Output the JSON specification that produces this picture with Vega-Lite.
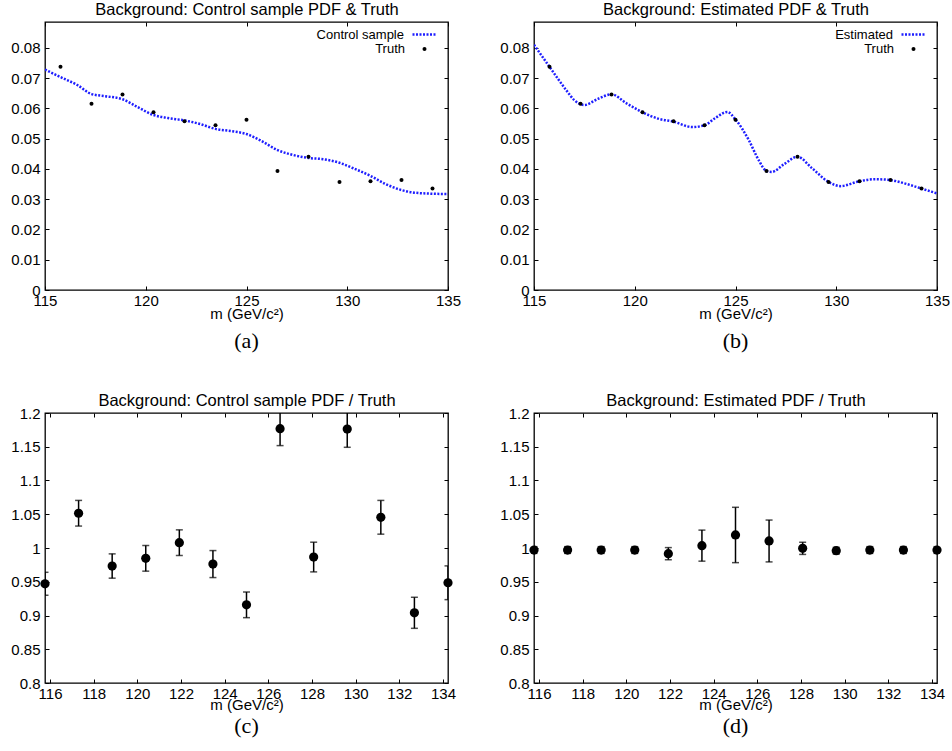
{
  "$schema": "https://vega.github.io/schema/vega-lite/v6.json",
  "background": "white",
  "padding": {"left": 10, "top": 0, "right": 2, "bottom": 2},
  "bounds": "flush",
  "columns": 2,
  "spacing": {"row": 123, "column": 86},
  "config": {
    "view": {"stroke": "black", "strokeWidth": 1.3},
    "axis": {
      "labelFont": "Liberation Sans", "labelFontSize": 15, "labelColor": "black",
      "titleFont": "Liberation Sans", "titleFontSize": 15, "titleFontWeight": "normal", "titleColor": "black",
      "domain": false, "grid": false, "tickColor": "black", "tickSize": -4, "tickWidth": 1,
      "labelPadding": 9, "labelFlush": false, "labelOverlap": false, "labelBound": false
    },
    "axisBottom": {"labelPadding": 7.5},
    "legend": {"labelFont": "Liberation Sans", "labelFontSize": 13, "labelColor": "black", "title": null, "padding": 0},
    "title": {"font": "Liberation Serif", "fontSize": 22, "fontWeight": "normal", "color": "black", "orient": "bottom", "anchor": "middle"}
  },
  "datasets": {
    "ctrl": [
      {"m": 115.0, "pdf": 0.0728}, {"m": 115.77, "pdf": 0.0703}, {"m": 116.6, "pdf": 0.0677},
      {"m": 117.31, "pdf": 0.0647}, {"m": 118.0, "pdf": 0.0640}, {"m": 118.85, "pdf": 0.0630},
      {"m": 119.6, "pdf": 0.0604}, {"m": 120.38, "pdf": 0.0578}, {"m": 121.1, "pdf": 0.0568},
      {"m": 121.92, "pdf": 0.0560}, {"m": 122.7, "pdf": 0.0548}, {"m": 123.46, "pdf": 0.0532},
      {"m": 124.2, "pdf": 0.0525}, {"m": 125.0, "pdf": 0.0515}, {"m": 125.8, "pdf": 0.0490},
      {"m": 126.54, "pdf": 0.0462}, {"m": 127.3, "pdf": 0.0446}, {"m": 128.08, "pdf": 0.0436},
      {"m": 128.8, "pdf": 0.0432}, {"m": 129.62, "pdf": 0.0420}, {"m": 130.3, "pdf": 0.0402},
      {"m": 131.15, "pdf": 0.0377}, {"m": 131.9, "pdf": 0.0350}, {"m": 132.69, "pdf": 0.0330},
      {"m": 133.4, "pdf": 0.0321}, {"m": 134.23, "pdf": 0.0318}, {"m": 135.0, "pdf": 0.0317}
    ],
    "est": [
      {"m": 115.0, "pdf": 0.0810}, {"m": 115.77, "pdf": 0.0737}, {"m": 116.6, "pdf": 0.0660},
      {"m": 117.0, "pdf": 0.0627}, {"m": 117.5, "pdf": 0.0611}, {"m": 118.2, "pdf": 0.0632},
      {"m": 118.85, "pdf": 0.0646}, {"m": 119.6, "pdf": 0.0616}, {"m": 120.38, "pdf": 0.0587},
      {"m": 121.2, "pdf": 0.0565}, {"m": 121.92, "pdf": 0.0556}, {"m": 122.85, "pdf": 0.0538},
      {"m": 123.46, "pdf": 0.0544}, {"m": 124.0, "pdf": 0.0568}, {"m": 124.6, "pdf": 0.0588},
      {"m": 125.0, "pdf": 0.0563}, {"m": 125.66, "pdf": 0.0495}, {"m": 126.15, "pdf": 0.0429},
      {"m": 126.54, "pdf": 0.0393}, {"m": 126.8, "pdf": 0.0390}, {"m": 127.4, "pdf": 0.0415},
      {"m": 128.08, "pdf": 0.0440}, {"m": 128.8, "pdf": 0.0402}, {"m": 129.62, "pdf": 0.0357},
      {"m": 130.2, "pdf": 0.0343}, {"m": 131.15, "pdf": 0.0359}, {"m": 131.9, "pdf": 0.0366},
      {"m": 132.69, "pdf": 0.0363}, {"m": 133.5, "pdf": 0.0350}, {"m": 134.23, "pdf": 0.0335},
      {"m": 135.0, "pdf": 0.0319}
    ],
    "truth": [
      {"m": 115.769, "truth": 0.0737}, {"m": 117.308, "truth": 0.0615}, {"m": 118.846, "truth": 0.0646},
      {"m": 120.385, "truth": 0.0587}, {"m": 121.923, "truth": 0.0557}, {"m": 123.462, "truth": 0.0544},
      {"m": 125.0, "truth": 0.0562}, {"m": 126.538, "truth": 0.0393}, {"m": 128.077, "truth": 0.0440},
      {"m": 129.615, "truth": 0.0357}, {"m": 131.154, "truth": 0.0359}, {"m": 132.692, "truth": 0.0363},
      {"m": 134.231, "truth": 0.0335}
    ],
    "ratioC": [
      {"m": 115.769, "r": 0.947, "lo": 0.930, "hi": 0.964},
      {"m": 117.308, "r": 1.0515, "lo": 1.0325, "hi": 1.0705},
      {"m": 118.846, "r": 0.9733, "lo": 0.9553, "hi": 0.9913},
      {"m": 120.385, "r": 0.9847, "lo": 0.9657, "hi": 1.0037},
      {"m": 121.923, "r": 1.0079, "lo": 0.9889, "hi": 1.0269},
      {"m": 123.462, "r": 0.9762, "lo": 0.9562, "hi": 0.9962},
      {"m": 125.0, "r": 0.9158, "lo": 0.8968, "hi": 0.9348},
      {"m": 126.538, "r": 1.1767, "lo": 1.1517, "hi": 1.2017},
      {"m": 128.077, "r": 0.9866, "lo": 0.9646, "hi": 1.0086},
      {"m": 129.615, "r": 1.1762, "lo": 1.1492, "hi": 1.2032},
      {"m": 131.154, "r": 1.0455, "lo": 1.0205, "hi": 1.0705},
      {"m": 132.692, "r": 0.904, "lo": 0.881, "hi": 0.927},
      {"m": 134.231, "r": 0.9485, "lo": 0.9235, "hi": 0.9735}
    ],
    "ratioD": [
      {"m": 115.769, "r": 0.997, "lo": 0.992, "hi": 1.002},
      {"m": 117.308, "r": 0.997, "lo": 0.992, "hi": 1.002},
      {"m": 118.846, "r": 0.997, "lo": 0.992, "hi": 1.002},
      {"m": 120.385, "r": 0.997, "lo": 0.992, "hi": 1.002},
      {"m": 121.923, "r": 0.9916, "lo": 0.9826, "hi": 1.0006},
      {"m": 123.462, "r": 1.0035, "lo": 0.9805, "hi": 1.0265},
      {"m": 125.0, "r": 1.0193, "lo": 0.9783, "hi": 1.0603},
      {"m": 126.538, "r": 1.0104, "lo": 0.9794, "hi": 1.0414},
      {"m": 128.077, "r": 0.9995, "lo": 0.9905, "hi": 1.0085},
      {"m": 129.615, "r": 0.996, "lo": 0.991, "hi": 1.001},
      {"m": 131.154, "r": 0.997, "lo": 0.992, "hi": 1.002},
      {"m": 132.692, "r": 0.997, "lo": 0.992, "hi": 1.002},
      {"m": 134.231, "r": 0.997, "lo": 0.992, "hi": 1.002}
    ]
  },
  "concat": [
    {
      "width": 403, "height": 268,
      "title": {"text": "(a)", "offset": 9},
      "resolve": {"axis": {"x": "independent", "y": "independent"}},
      "layer": [
        {
          "data": {"name": "ctrl"},
          "mark": {"type": "line", "strokeWidth": 2.5, "strokeDash": [2, 1.5], "interpolate": "monotone", "clip": true},
          "encoding": {
            "x": {"field": "m", "type": "quantitative", "scale": {"domain": [115, 135], "nice": false, "zero": false},
                  "axis": {"orient": "bottom", "values": [115, 120, 125, 130, 135], "format": "d", "title": "m (GeV/c²)", "titlePadding": -2}},
            "y": {"field": "pdf", "type": "quantitative", "scale": {"domain": [0, 0.0885], "nice": false, "zero": false},
                  "axis": {"orient": "left", "values": [0, 0.01, 0.02, 0.03, 0.04, 0.05, 0.06, 0.07, 0.08], "format": "~g", "title": null}},
            "stroke": {"datum": "Control sample", "type": "nominal", "scale": {"domain": ["Control sample"], "range": ["#1e1eff"]},
                       "legend": {"orient": "none", "legendX": 366, "legendY": -1, "symbolType": "stroke", "symbolSize": 576, "symbolStrokeWidth": 2.5, "symbolDash": [2, 1.5], "labelAlign": "right", "labelOffset": -34}}
          }
        },
        {
          "data": {"name": "truth"},
          "mark": {"type": "point", "filled": true, "size": 16, "opacity": 1},
          "encoding": {
            "x": {"field": "m", "type": "quantitative", "axis": {"orient": "top", "labels": false, "values": [115, 120, 125, 130, 135], "title": "Background: Control sample PDF & Truth", "titleFontSize": 16.5, "titlePadding": 4}},
            "y": {"field": "truth", "type": "quantitative", "axis": {"orient": "right", "labels": false, "values": [0, 0.01, 0.02, 0.03, 0.04, 0.05, 0.06, 0.07, 0.08], "title": null}},
            "fill": {"datum": "Truth", "type": "nominal", "scale": {"domain": ["Truth"], "range": ["black"]},
                     "legend": {"orient": "none", "legendX": 373, "legendY": 20.5, "symbolType": "circle", "symbolSize": 16, "symbolStrokeWidth": 0, "labelAlign": "right", "labelOffset": -26}}
          }
        }
      ]
    },
    {
      "width": 403, "height": 268,
      "title": {"text": "(b)", "offset": 9},
      "resolve": {"axis": {"x": "independent", "y": "independent"}},
      "layer": [
        {
          "data": {"name": "est"},
          "mark": {"type": "line", "strokeWidth": 2.5, "strokeDash": [2, 1.5], "interpolate": "monotone", "clip": true},
          "encoding": {
            "x": {"field": "m", "type": "quantitative", "scale": {"domain": [115, 135], "nice": false, "zero": false},
                  "axis": {"orient": "bottom", "values": [115, 120, 125, 130, 135], "format": "d", "title": "m (GeV/c²)", "titlePadding": -2}},
            "y": {"field": "pdf", "type": "quantitative", "scale": {"domain": [0, 0.0885], "nice": false, "zero": false},
                  "axis": {"orient": "left", "values": [0, 0.01, 0.02, 0.03, 0.04, 0.05, 0.06, 0.07, 0.08], "format": "~g", "title": null}},
            "stroke": {"datum": "Estimated", "type": "nominal", "scale": {"domain": ["Estimated"], "range": ["#1e1eff"]},
                       "legend": {"orient": "none", "legendX": 366, "legendY": -1, "symbolType": "stroke", "symbolSize": 576, "symbolStrokeWidth": 2.5, "symbolDash": [2, 1.5], "labelAlign": "right", "labelOffset": -34}}
          }
        },
        {
          "data": {"name": "truth"},
          "mark": {"type": "point", "filled": true, "size": 16, "opacity": 1},
          "encoding": {
            "x": {"field": "m", "type": "quantitative", "axis": {"orient": "top", "labels": false, "values": [115, 120, 125, 130, 135], "title": "Background: Estimated PDF & Truth", "titleFontSize": 16.5, "titlePadding": 4}},
            "y": {"field": "truth", "type": "quantitative", "axis": {"orient": "right", "labels": false, "values": [0, 0.01, 0.02, 0.03, 0.04, 0.05, 0.06, 0.07, 0.08], "title": null}},
            "fill": {"datum": "Truth", "type": "nominal", "scale": {"domain": ["Truth"], "range": ["black"]},
                     "legend": {"orient": "none", "legendX": 373, "legendY": 20.5, "symbolType": "circle", "symbolSize": 16, "symbolStrokeWidth": 0, "labelAlign": "right", "labelOffset": -26}}
          }
        }
      ]
    },
    {
      "width": 403, "height": 270,
      "title": {"text": "(c)", "offset": 4},
      "resolve": {"axis": {"x": "independent", "y": "independent"}},
      "layer": [
        {
          "mark": {"type": "rule", "stroke": "#10f010", "strokeWidth": 3, "strokeDash": [3, 2]},
          "encoding": {"y": {"datum": 1, "type": "quantitative", "axis": null}}
        },
        {
          "data": {"name": "ratioC"},
          "mark": {"type": "rule", "stroke": "black", "strokeWidth": 1.5, "clip": true},
          "encoding": {
            "x": {"field": "m", "type": "quantitative", "scale": {"domain": [115.769, 134.231], "nice": false, "zero": false},
                  "axis": {"orient": "bottom", "values": [116, 118, 120, 122, 124, 126, 128, 130, 132, 134], "format": "d", "title": "m (GeV/c²)", "titlePadding": -4.5}},
            "y": {"field": "lo", "type": "quantitative", "scale": {"domain": [0.8, 1.2], "nice": false, "zero": false},
                  "axis": {"orient": "left", "values": [0.8, 0.85, 0.9, 0.95, 1, 1.05, 1.1, 1.15, 1.2], "format": "~g", "title": null}},
            "y2": {"field": "hi"}
          }
        },
        {
          "data": {"name": "ratioC"},
          "mark": {"type": "tick", "orient": "horizontal", "color": "black", "size": 7, "thickness": 1.5, "clip": true},
          "encoding": {"x": {"field": "m", "type": "quantitative", "axis": null}, "y": {"field": "lo", "type": "quantitative", "axis": null}}
        },
        {
          "data": {"name": "ratioC"},
          "mark": {"type": "tick", "orient": "horizontal", "color": "black", "size": 7, "thickness": 1.5, "clip": true},
          "encoding": {"x": {"field": "m", "type": "quantitative", "axis": null}, "y": {"field": "hi", "type": "quantitative", "axis": null}}
        },
        {
          "data": {"name": "ratioC"},
          "mark": {"type": "circle", "color": "black", "size": 85, "opacity": 1},
          "encoding": {
            "x": {"field": "m", "type": "quantitative", "axis": {"orient": "top", "labels": false, "values": [116, 118, 120, 122, 124, 126, 128, 130, 132, 134], "title": "Background: Control sample PDF / Truth", "titleFontSize": 16.5, "titlePadding": 4}},
            "y": {"field": "r", "type": "quantitative", "axis": {"orient": "right", "labels": false, "values": [0.8, 0.85, 0.9, 0.95, 1, 1.05, 1.1, 1.15, 1.2], "title": null}}
          }
        }
      ]
    },
    {
      "width": 403, "height": 270,
      "title": {"text": "(d)", "offset": 4},
      "resolve": {"axis": {"x": "independent", "y": "independent"}},
      "layer": [
        {
          "mark": {"type": "rule", "stroke": "#10f010", "strokeWidth": 3, "strokeDash": [3, 2]},
          "encoding": {"y": {"datum": 1, "type": "quantitative", "axis": null}}
        },
        {
          "data": {"name": "ratioD"},
          "mark": {"type": "rule", "stroke": "black", "strokeWidth": 1.5, "clip": true},
          "encoding": {
            "x": {"field": "m", "type": "quantitative", "scale": {"domain": [115.769, 134.231], "nice": false, "zero": false},
                  "axis": {"orient": "bottom", "values": [116, 118, 120, 122, 124, 126, 128, 130, 132, 134], "format": "d", "title": "m (GeV/c²)", "titlePadding": -4.5}},
            "y": {"field": "lo", "type": "quantitative", "scale": {"domain": [0.8, 1.2], "nice": false, "zero": false},
                  "axis": {"orient": "left", "values": [0.8, 0.85, 0.9, 0.95, 1, 1.05, 1.1, 1.15, 1.2], "format": "~g", "title": null}},
            "y2": {"field": "hi"}
          }
        },
        {
          "data": {"name": "ratioD"},
          "mark": {"type": "tick", "orient": "horizontal", "color": "black", "size": 7, "thickness": 1.5, "clip": true},
          "encoding": {"x": {"field": "m", "type": "quantitative", "axis": null}, "y": {"field": "lo", "type": "quantitative", "axis": null}}
        },
        {
          "data": {"name": "ratioD"},
          "mark": {"type": "tick", "orient": "horizontal", "color": "black", "size": 7, "thickness": 1.5, "clip": true},
          "encoding": {"x": {"field": "m", "type": "quantitative", "axis": null}, "y": {"field": "hi", "type": "quantitative", "axis": null}}
        },
        {
          "data": {"name": "ratioD"},
          "mark": {"type": "circle", "color": "black", "size": 85, "opacity": 1},
          "encoding": {
            "x": {"field": "m", "type": "quantitative", "axis": {"orient": "top", "labels": false, "values": [116, 118, 120, 122, 124, 126, 128, 130, 132, 134], "title": "Background: Estimated PDF / Truth", "titleFontSize": 16.5, "titlePadding": 4}},
            "y": {"field": "r", "type": "quantitative", "axis": {"orient": "right", "labels": false, "values": [0.8, 0.85, 0.9, 0.95, 1, 1.05, 1.1, 1.15, 1.2], "title": null}}
          }
        }
      ]
    }
  ],
  "resolve": {
    "scale": {"x": "independent", "y": "independent", "stroke": "independent", "fill": "independent"},
    "legend": {"stroke": "independent", "fill": "independent"}
  }
}
